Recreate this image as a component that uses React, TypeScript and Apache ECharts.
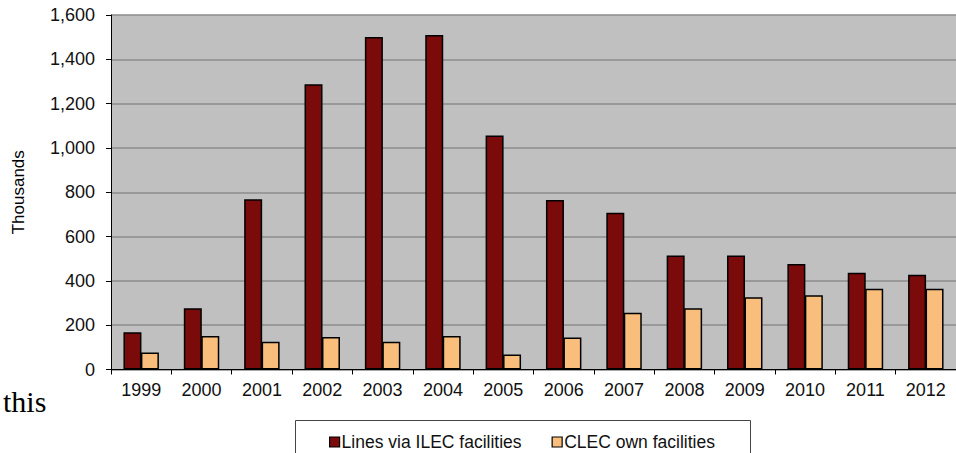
import React, { useEffect, useRef } from "react";
import * as echarts from "echarts";

const years = ["1999", "2000", "2001", "2002", "2003", "2004", "2005", "2006", "2007", "2008", "2009", "2010", "2011", "2012"];
const ilecLines = [168, 277, 768, 1287, 1501, 1510, 1056, 765, 707, 515, 515, 476, 437, 428];
const clecLines = [77, 151, 125, 147, 125, 151, 68, 144, 256, 277, 326, 335, 365, 365];
const yTicks = { min: 0, max: 1600, interval: 200 };

const FONT = "'Liberation Sans', Arial, sans-serif";

export default function App() {
  const ref = useRef<HTMLDivElement>(null);

  useEffect(() => {
    if (!ref.current) return;
    const chart = echarts.init(ref.current, null, { renderer: "svg" });
    chart.setOption({
      animation: false,
      backgroundColor: "#ffffff",
      textStyle: { fontFamily: FONT },
      grid: { left: 111, right: -3, top: 15, bottom: 83.5, show: true, backgroundColor: "#C0C0C0", borderWidth: 0 },
      xAxis: {
        type: "category",
        data: years,
        axisLine: { lineStyle: { color: "#000", width: 1 } },
        axisTick: { show: true, length: 5, lineStyle: { color: "#000" } },
        axisLabel: { color: "#111", fontSize: 18, fontFamily: FONT, margin: 11 },
      },
      yAxis: {
        type: "value",
        min: yTicks.min,
        max: yTicks.max,
        interval: yTicks.interval,
        name: "Thousands",
        nameLocation: "middle",
        nameGap: 84,
        nameRotate: 90,
        nameTextStyle: { color: "#000", fontSize: 17, fontFamily: FONT },
        axisLine: { show: true, lineStyle: { color: "#000", width: 1 } },
        axisTick: { show: true, length: 5, lineStyle: { color: "#000" } },
        axisLabel: {
          color: "#111",
          fontSize: 18,
          fontFamily: FONT,
          margin: 16,
          formatter: (v: number) => v.toLocaleString("en-US"),
        },
        splitLine: { show: true, lineStyle: { color: "#8C8C8C", width: 1.5 } },
      },
      legend: {
        left: 329,
        top: 433,
        icon: "rect",
        itemWidth: 10,
        itemHeight: 10,
        itemGap: 30,
        padding: 0,
        itemStyle: { borderColor: "#000", borderWidth: 1.2 },
        textStyle: { color: "#111", fontSize: 17.5, fontFamily: FONT, padding: [0, 0, 0, -3] },
        data: ["Lines via ILEC facilities", "CLEC own facilities"],
      },
      graphic: [
        {
          type: "rect",
          z: -1,
          shape: { x: 295.5, y: 420.5, width: 455, height: 40 },
          style: { fill: "#fff", stroke: "#444", lineWidth: 1 },
        },
        {
          type: "text",
          left: 3,
          top: 386,
          style: { text: "this", fill: "#000", font: "30px 'Liberation Serif', 'Times New Roman', serif" },
        },
      ],
      series: [
        {
          name: "Lines via ILEC facilities",
          type: "bar",
          data: ilecLines,
          barWidth: 18,
          barGap: "-3%",
          itemStyle: { color: "#7B0A0A", borderColor: "#000", borderWidth: 1.5 },
        },
        {
          name: "CLEC own facilities",
          type: "bar",
          data: clecLines,
          barWidth: 18,
          barGap: "-3%",
          itemStyle: { color: "#F9BE7C", borderColor: "#000", borderWidth: 1.5 },
        },
      ],
    });
    return () => chart.dispose();
  }, []);

  return (
    <div
      ref={ref}
      style={{ position: "fixed", left: 0, top: 0, width: 956, height: 453 }}
    />
  );
}
